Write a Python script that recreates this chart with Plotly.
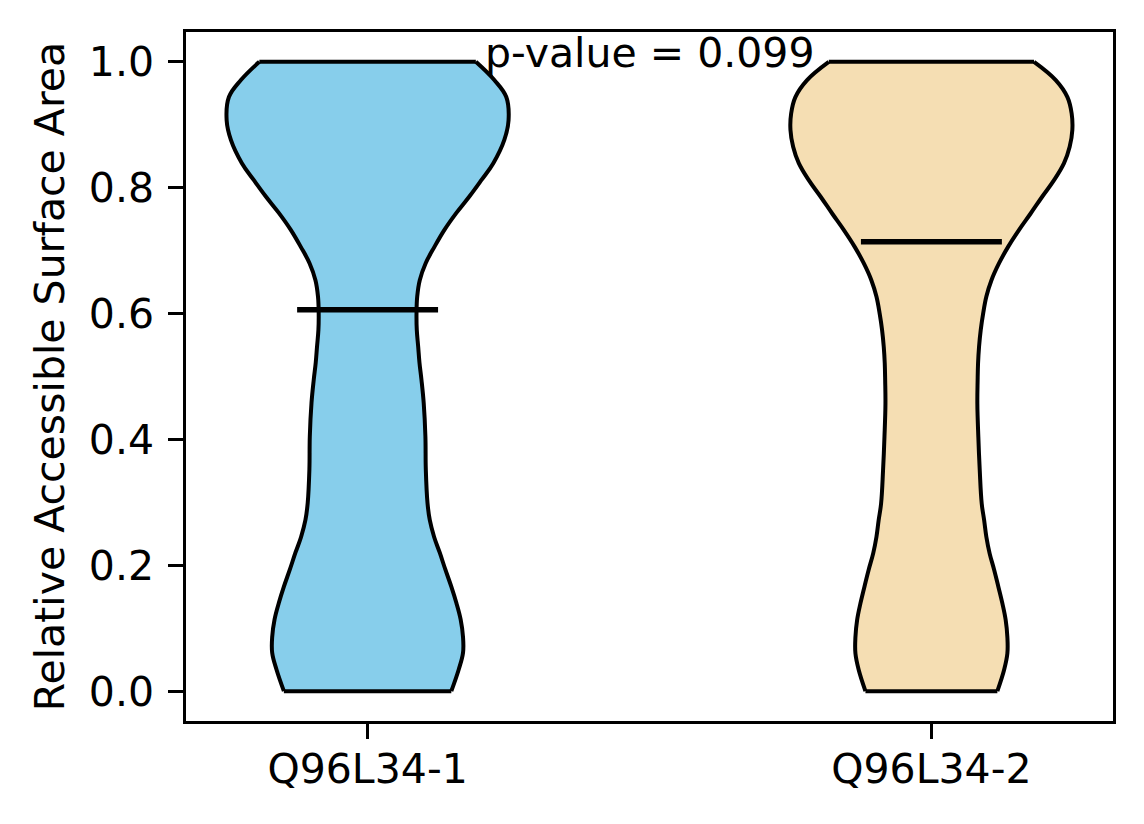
import plotly.graph_objects as go

# ---- data ----
categories = ["Q96L34-1", "Q96L34-2"]
positions = [1, 2]
medians = [0.606, 0.714]
p_value_text = "p-value = 0.099"

# violin outlines: y levels and relative density (max density = 1)
y_levels_1 = [0.0, 0.034, 0.061, 0.086, 0.114, 0.140, 0.166, 0.193, 0.220, 0.245,
              0.272, 0.299, 0.352, 0.405, 0.458, 0.495, 0.522, 0.547, 0.574, 0.601,
              0.627, 0.653, 0.680, 0.706, 0.733, 0.760, 0.786, 0.812, 0.839, 0.876,
              0.907, 0.944, 0.971, 1.0]
density_1 = [0.594, 0.646, 0.677, 0.677, 0.660, 0.630, 0.594, 0.552, 0.512, 0.472,
             0.441, 0.425, 0.413, 0.410, 0.398, 0.382, 0.368, 0.359, 0.349, 0.347,
             0.352, 0.370, 0.412, 0.474, 0.545, 0.630, 0.722, 0.807, 0.892, 0.970,
             1.0, 0.984, 0.899, 0.768]

y_levels_2 = [0.0, 0.034, 0.060, 0.086, 0.113, 0.139, 0.166, 0.193, 0.219, 0.245,
              0.272, 0.298, 0.351, 0.404, 0.457, 0.494, 0.521, 0.547, 0.574, 0.600,
              0.627, 0.653, 0.680, 0.706, 0.733, 0.759, 0.786, 0.812, 0.839, 0.865,
              0.892, 0.918, 0.944, 0.971, 1.0]
density_2 = [0.468, 0.516, 0.539, 0.539, 0.527, 0.504, 0.475, 0.445, 0.413, 0.390,
             0.374, 0.357, 0.343, 0.333, 0.326, 0.328, 0.331, 0.338, 0.350, 0.367,
             0.390, 0.426, 0.480, 0.544, 0.622, 0.704, 0.787, 0.870, 0.941, 0.981,
             1.0, 0.995, 0.965, 0.882, 0.728]

y_ticks = [0.0, 0.2, 0.4, 0.6, 0.8, 1.0]
y_tick_labels = ["0.0", "0.2", "0.4", "0.6", "0.8", "1.0"]

# ---- styles ----
fill_colors = ["#87CEEB", "#F5DEB3"]
violin_width = 0.5
FONT = "DejaVu Sans"
FS = 41
EDGE = 4
SMOOTH = 1.1

fig = go.Figure()

profiles = [(y_levels_1, density_1), (y_levels_2, density_2)]
for pos, (ys, dens), col in zip(positions, profiles, fill_colors):
    half = [d * violin_width / 2 for d in dens]
    left_x = [pos - h for h in half]
    right_x = [pos + h for h in half]
    # left side of the violin
    fig.add_trace(go.Scatter(
        x=left_x, y=ys, mode="lines",
        line=dict(color="black", width=EDGE, shape="spline", smoothing=SMOOTH),
        hoverinfo="skip", showlegend=False))
    # right side, filled horizontally to the left side
    fig.add_trace(go.Scatter(
        x=right_x, y=ys, mode="lines", fill="tonextx", fillcolor=col,
        line=dict(color="black", width=EDGE, shape="spline", smoothing=SMOOTH),
        hoverinfo="skip", showlegend=False))
    # flat ends at the data min / max
    for i in (0, -1):
        fig.add_trace(go.Scatter(
            x=[left_x[i], right_x[i]], y=[ys[i], ys[i]], mode="lines",
            line=dict(color="black", width=EDGE),
            hoverinfo="skip", showlegend=False))

for pos, med in zip(positions, medians):
    fig.add_trace(go.Scatter(
        x=[pos - violin_width / 4, pos + violin_width / 4], y=[med, med],
        mode="lines", line=dict(color="black", width=5.5),
        hoverinfo="skip", showlegend=False))

fig.add_annotation(x=(positions[0] + positions[1]) / 2, y=1.014, xref="x", yref="y",
                   text=p_value_text, showarrow=False, yanchor="middle", xanchor="center",
                   font=dict(family=FONT, size=FS, color="black"))

axis_common = dict(showline=True, linecolor="black", linewidth=3.3, mirror=True,
                   ticks="outside", ticklen=14.6, tickwidth=3.3, tickcolor="black",
                   showgrid=False, zeroline=False,
                   tickfont=dict(family=FONT, size=FS, color="black"))

fig.update_layout(
    width=1136, height=816,
    margin=dict(l=177.65, r=31.35, t=24.35, b=102.95, pad=0),
    paper_bgcolor="white", plot_bgcolor="white",
    font=dict(family=FONT, size=FS, color="black"),
    xaxis=dict(range=[0.6779, 2.3221], tickvals=positions, ticktext=categories,
               ticklabelstandoff=-5, **axis_common),
    yaxis=dict(range=[-0.0474, 1.0474], tickvals=y_ticks, ticktext=y_tick_labels,
               ticklabelstandoff=6,
               title=dict(text="Relative Accessible Surface Area", standoff=12,
                          font=dict(family=FONT, size=FS, color="black")),
               **axis_common),
)

fig.write_html("out.html")
